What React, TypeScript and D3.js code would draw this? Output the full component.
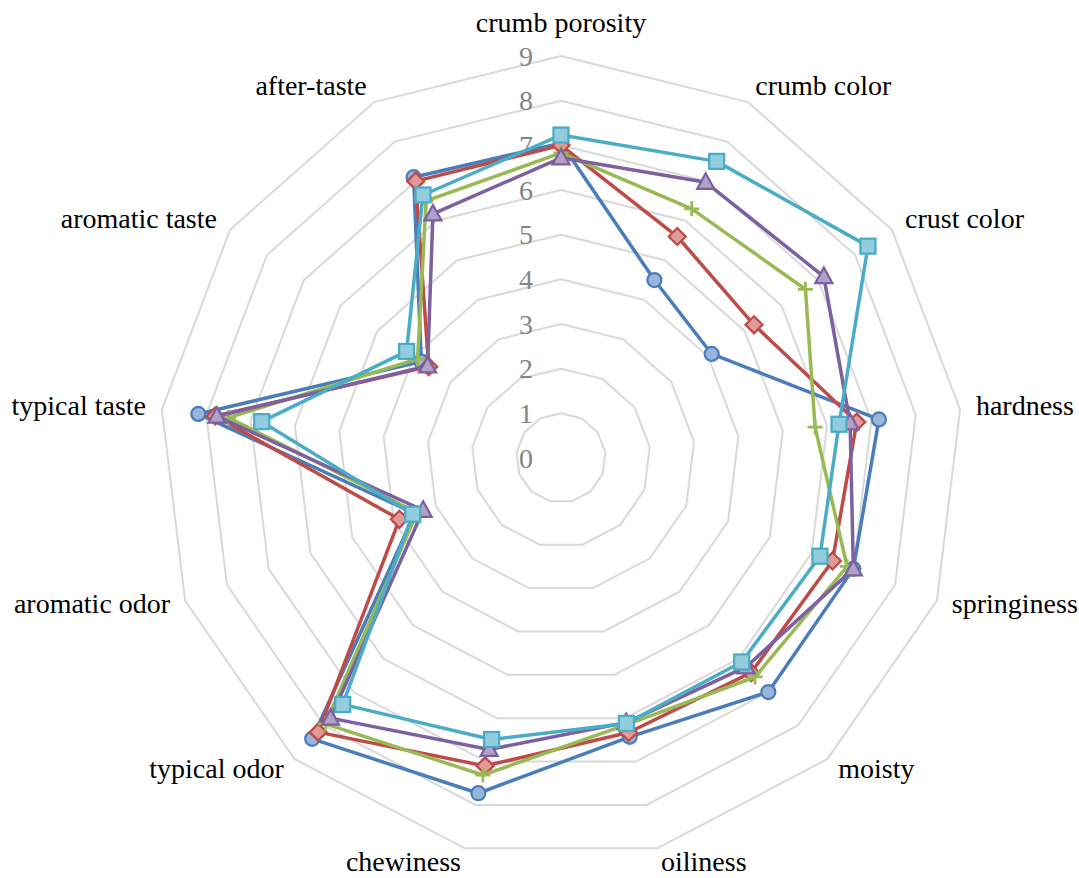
import React from "react";
import * as d3 from "d3";

// Sensory attributes, clockwise from the top
const categories = [
  "crumb porosity",
  "crumb color",
  "crust color",
  "hardness",
  "springiness",
  "moisty",
  "oiliness",
  "chewiness",
  "typical odor",
  "aromatic odor",
  "typical taste",
  "aromatic taste",
  "after-taste",
];

const ticks = [0, 1, 2, 3, 4, 5, 6, 7, 8, 9];

// Panel scores per sample
const sampleA = [7.05, 4.5, 4.1, 7.17, 7.0, 7.0, 6.43, 7.73, 8.4, 3.5, 8.18, 3.8, 7.1];
const sampleB = [7.0, 5.6, 5.25, 6.67, 6.5, 6.42, 6.33, 7.1, 8.2, 3.87, 7.8, 3.6, 7.0];
const sampleC = [6.83, 6.3, 6.65, 5.73, 6.85, 6.55, 6.15, 7.31, 7.95, 3.45, 7.5, 3.9, 6.5];
const sampleD = [6.72, 6.97, 7.15, 6.52, 7.0, 6.25, 6.1, 6.72, 7.78, 3.3, 7.76, 3.63, 6.17];
const sampleE = [7.23, 7.5, 8.35, 6.27, 6.2, 6.1, 6.12, 6.49, 7.37, 3.55, 6.75, 4.2, 6.65];

type Marker = "circle" | "diamond" | "plus" | "triangle" | "square";

const series: { name: string; values: number[]; line: string; fill: string; marker: Marker }[] = [
  { name: "A", values: sampleA, line: "#4A7EBB", fill: "#9AB5DC", marker: "circle" },
  { name: "B", values: sampleB, line: "#BE4B48", fill: "#E09B99", marker: "diamond" },
  { name: "C", values: sampleC, line: "#98B954", fill: "#98B954", marker: "plus" },
  { name: "D", values: sampleD, line: "#7D60A0", fill: "#B2A1C7", marker: "triangle" },
  { name: "E", values: sampleE, line: "#4BACC6", fill: "#93CDDD", marker: "square" },
];

const W = 1079;
const H = 878;
const cx = 561;
const cy = 458;
const font = "'Liberation Serif', 'Times New Roman', serif";

const r = d3.scaleLinear().domain([0, 9]).range([0, 402]);
const angle = d3
  .scaleLinear()
  .domain([0, categories.length])
  .range([0, 2 * Math.PI]);

const point = (i: number, v: number): [number, number] => {
  const a = angle(i);
  return [cx + Math.sin(a) * r(v), cy - Math.cos(a) * r(v)];
};

const closedLine = d3
  .line<[number, number]>()
  .x((d) => d[0])
  .y((d) => d[1])
  .curve(d3.curveLinearClosed);

function MarkerShape({ m, x, y, line, fill }: { m: Marker; x: number; y: number; line: string; fill: string }) {
  const sw = 2.25;
  switch (m) {
    case "circle":
      return <circle cx={x} cy={y} r={7} fill={fill} stroke={line} strokeWidth={sw} />;
    case "square":
      return <rect x={x - 7.5} y={y - 7.5} width={15} height={15} fill={fill} stroke={line} strokeWidth={sw} />;
    case "diamond":
      return (
        <path
          d={`M${x},${y - 8.5}L${x + 8.5},${y}L${x},${y + 8.5}L${x - 8.5},${y}Z`}
          fill={fill}
          stroke={line}
          strokeWidth={sw}
        />
      );
    case "triangle":
      return (
        <path
          d={`M${x},${y - 9}L${x + 8.5},${y + 6.5}L${x - 8.5},${y + 6.5}Z`}
          fill={fill}
          stroke={line}
          strokeWidth={sw}
        />
      );
    case "plus":
      return (
        <path d={`M${x - 7.5},${y}H${x + 7.5}M${x},${y - 7.5}V${y + 7.5}`} fill="none" stroke={line} strokeWidth={2.75} />
      );
  }
}

export default function App() {
  const n = categories.length;
  const rings = ticks.filter((t) => t > 0);
  const labelR = 418;

  return (
    <svg
      width={W}
      height={H}
      style={{ position: "absolute", left: 0, top: 0, background: "#fff" }}
      fontFamily={font}
    >
      {/* concentric grid */}
      {rings.map((t) => (
        <path
          key={t}
          d={closedLine(d3.range(n).map((i) => point(i, t))) || ""}
          fill="none"
          stroke="#D9D9D9"
          strokeWidth={2}
        />
      ))}

      {/* value axis labels */}
      {ticks.map((t) => (
        <text
          key={t}
          x={cx - 28}
          y={cy - r(t)}
          dy="0.35em"
          textAnchor="end"
          fontSize={28}
          fill="#858585"
        >
          {t}
        </text>
      ))}

      {/* category labels */}
      {categories.map((c, i) => {
        const a = angle(i);
        const s = Math.sin(a);
        const co = Math.cos(a);
        const top = i === 0;
        const x = top ? cx : cx + s * labelR;
        const y = top ? 32 : cy - co * labelR + 7;
        const anchor = top ? "middle" : s > 0 ? "start" : "end";
        return (
          <text key={c} x={x} y={y} textAnchor={anchor} fontSize={28} fill="#000">
            {c}
          </text>
        );
      })}

      {/* series */}
      {series.map((s) => {
        const pts = s.values.map((v, i) => point(i, v));
        return (
          <g key={s.name}>
            <path
              d={closedLine(pts) || ""}
              fill="none"
              stroke={s.line}
              strokeWidth={3.5}
              strokeLinejoin="round"
            />
            {pts.map((p, i) => (
              <MarkerShape key={i} m={s.marker} x={p[0]} y={p[1]} line={s.line} fill={s.fill} />
            ))}
          </g>
        );
      })}
    </svg>
  );
}
